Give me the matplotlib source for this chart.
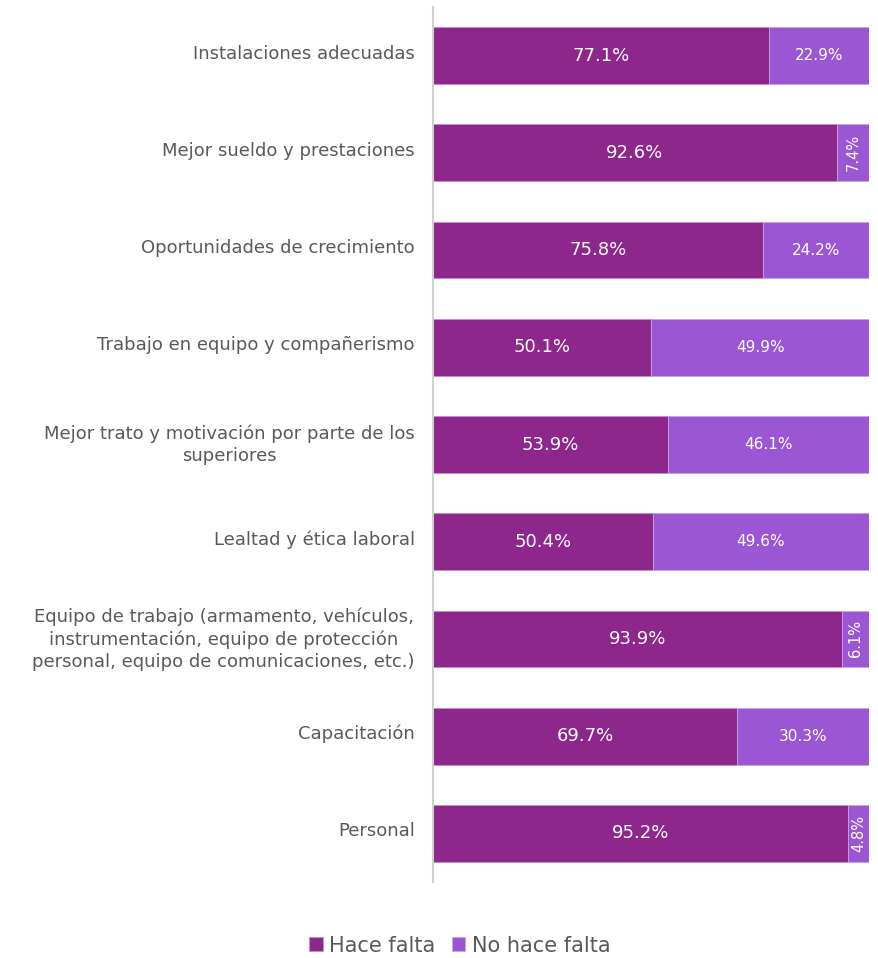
import matplotlib.pyplot as plt
import matplotlib.transforms as mtransforms

# datos
categorias = [
    "Instalaciones adecuadas",
    "Mejor sueldo y prestaciones",
    "Oportunidades de crecimiento",
    "Trabajo en equipo y compañerismo",
    "Mejor trato y motivación por parte de los\nsuperiores",
    "Lealtad y ética laboral",
    "Equipo de trabajo (armamento, vehículos,\ninstrumentación, equipo de protección\npersonal, equipo de comunicaciones, etc.)",
    "Capacitación",
    "Personal",
]
hace_falta = [77.1, 92.6, 75.8, 50.1, 53.9, 50.4, 93.9, 69.7, 95.2]
no_hace_falta = [22.9, 7.4, 24.2, 49.9, 46.1, 49.6, 6.1, 30.3, 4.8]

col_oscuro = "#8E278C"
col_claro = "#9B57D3"
gris = "#595959"

plt.rcParams['font.family'] = ['DejaVu Sans']

fig = plt.figure(figsize=(8.79, 9.58), dpi=100)
ax = fig.add_axes([433 / 879, 1 - 882 / 958, 436 / 879, 875 / 958])

y = list(range(len(categorias)))
b1 = ax.barh(y, hace_falta, height=0.585, color=col_oscuro, edgecolor="#C58BD0",
             linewidth=0.6, label="Hace falta")
b2 = ax.barh(y, no_hace_falta, left=hace_falta, height=0.585, color=col_claro,
             edgecolor="#C9A3EA", linewidth=0.6, label="No hace falta")

for i in y:
    ax.text(hace_falta[i] / 2, i, f"{hace_falta[i]}%", ha="center", va="center",
            color="white", fontsize=13)
    xc = hace_falta[i] + no_hace_falta[i] / 2
    if no_hace_falta[i] < 10:
        ax.text(xc, i, f"{no_hace_falta[i]}%", ha="center", va="center",
                color="white", fontsize=10.5, rotation=90)
    else:
        ax.text(xc, i, f"{no_hace_falta[i]}%", ha="center", va="center",
                color="white", fontsize=11)

ax.set_xlim(0, 100)
ax.set_ylim(len(categorias) - 0.5, -0.5)
ax.set_yticks(y)
ax.set_yticklabels(categorias, fontsize=13, color=gris, ha="right",
                   multialignment="center", linespacing=1.3)
ax.tick_params(axis="y", length=0, pad=13)
# subir un poco las etiquetas
desplaza = mtransforms.ScaledTranslation(0, 4 / 100, fig.dpi_scale_trans)
for lbl in ax.get_yticklabels():
    lbl.set_transform(lbl.get_transform() + desplaza)
ax.set_xticks([])
for s in ["top", "right", "bottom"]:
    ax.spines[s].set_visible(False)
ax.spines["left"].set_color("#D0D0D0")
ax.spines["left"].set_linewidth(1.5)

fig.legend(handles=[b1, b2], loc="center", bbox_to_anchor=(0.523, 0.013), ncol=2,
           frameon=False, fontsize=15, handlelength=0.65, handleheight=0.65,
           handletextpad=0.3, columnspacing=0.8, labelcolor=gris)

plt.savefig("out.png", dpi=100)
